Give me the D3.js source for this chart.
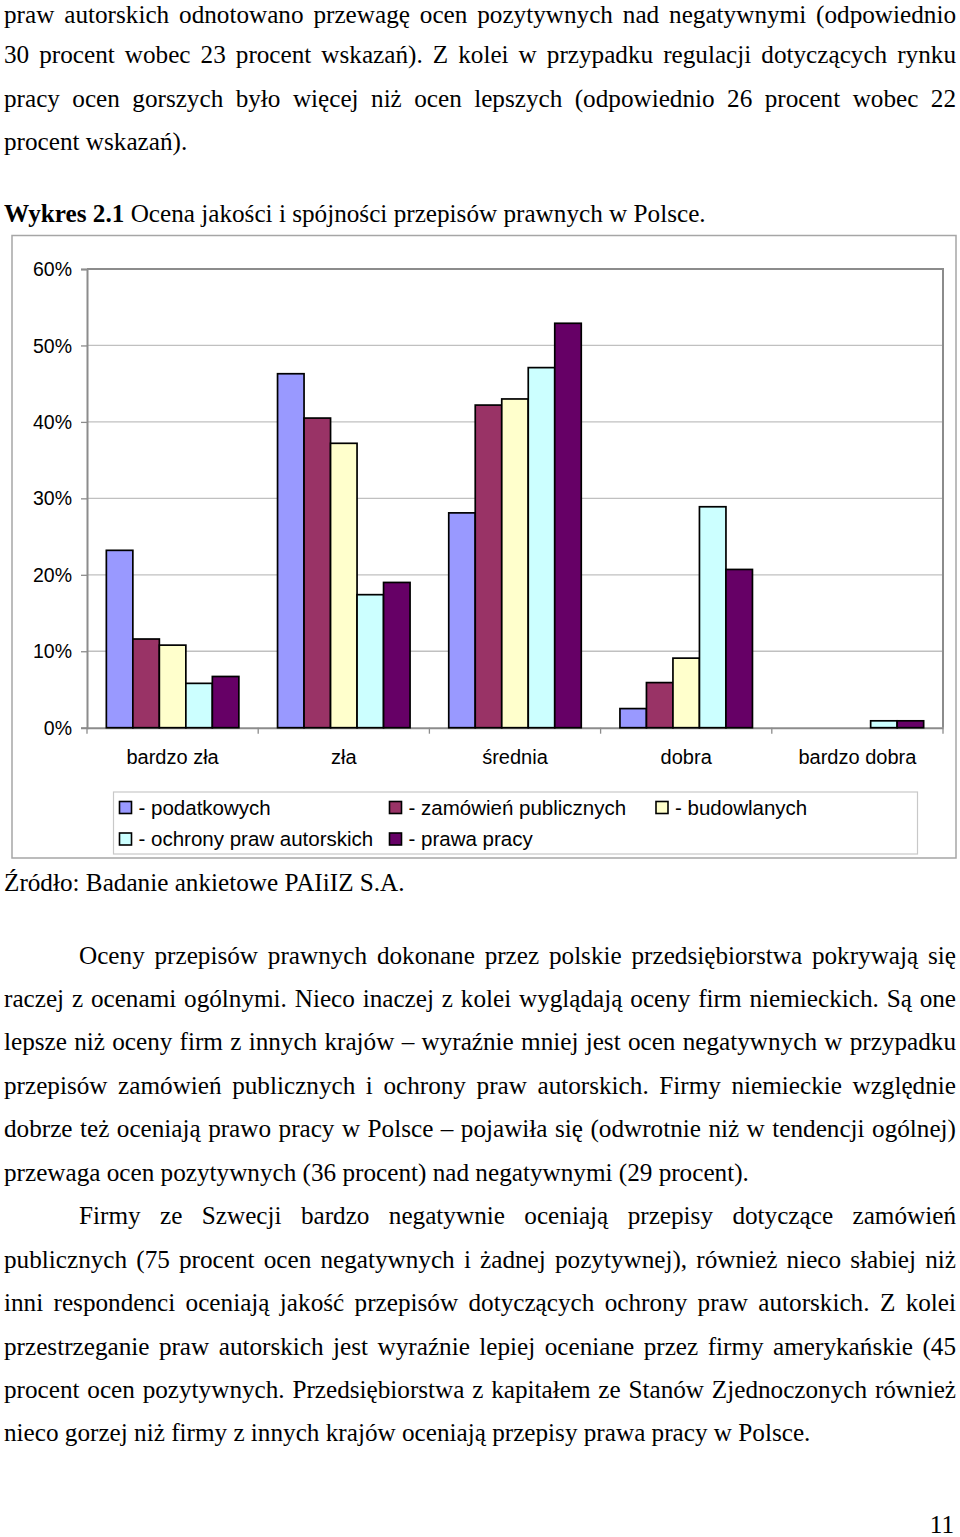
<!DOCTYPE html>
<html>
<head>
<meta charset="utf-8">
<script src="https://cdn.jsdelivr.net/npm/d3@7/dist/d3.min.js"></script>
<style>
  html, body { margin: 0; padding: 0; background: #fff; }
  svg { display: block; }
</style>
</head>
<body>
<svg id="page" width="960" height="1537"></svg>
<script>
// ---------- DATA ----------
const categories = ["bardzo zła", "zła", "średnia", "dobra", "bardzo dobra"];
const seriesNames = ["- podatkowych", "- zamówień publicznych", "- budowlanych", "- ochrony praw autorskich", "- prawa pracy"];
const seriesColors = ["#9999FF", "#993366", "#FFFFCC", "#CCFFFF", "#660066"];
const podatkowych = [23.2, 46.3, 28.1, 2.5, 0];
const zamowienPublicznych = [11.6, 40.5, 42.2, 5.9, 0];
const budowlanych = [10.8, 37.2, 43.0, 9.1, 0];
const ochronyPrawAutorskich = [5.8, 17.4, 47.1, 28.9, 0.9];
const prawaPracy = [6.7, 19.0, 52.9, 20.7, 0.9];
const yTickValues = [0, 10, 20, 30, 40, 50, 60];
const yTickLabels = ["0%", "10%", "20%", "30%", "40%", "50%", "60%"];

const topLines = [
  "praw autorskich odnotowano przewagę ocen pozytywnych nad negatywnymi (odpowiednio",
  "30 procent wobec 23 procent wskazań). Z kolei w przypadku regulacji dotyczących rynku",
  "pracy ocen gorszych było więcej niż ocen lepszych (odpowiednio 26 procent wobec 22",
  "procent wskazań)."
];
const captionBold = "Wykres 2.1";
const captionText = " Ocena jakości i spójności przepisów prawnych w Polsce.";
const sourceText = "Źródło: Badanie ankietowe PAIiIZ S.A.";
const para1 = [
  "Oceny przepisów prawnych dokonane przez polskie przedsiębiorstwa pokrywają się",
  "raczej z ocenami ogólnymi. Nieco inaczej z kolei wyglądają oceny firm niemieckich. Są one",
  "lepsze niż oceny firm z innych krajów – wyraźnie mniej jest ocen negatywnych w przypadku",
  "przepisów zamówień publicznych i ochrony praw autorskich. Firmy niemieckie względnie",
  "dobrze też oceniają prawo pracy w Polsce – pojawiła się (odwrotnie niż w tendencji ogólnej)",
  "przewaga ocen pozytywnych (36 procent) nad negatywnymi (29 procent)."
];
const para2 = [
  "Firmy ze Szwecji bardzo negatywnie oceniają przepisy dotyczące zamówień",
  "publicznych (75 procent ocen negatywnych i żadnej pozytywnej), również nieco słabiej niż",
  "inni respondenci oceniają jakość przepisów dotyczących ochrony praw autorskich. Z kolei",
  "przestrzeganie praw autorskich jest wyraźnie lepiej oceniane przez firmy amerykańskie (45",
  "procent ocen pozytywnych. Przedsiębiorstwa z kapitałem ze Stanów Zjednoczonych również",
  "nieco gorzej niż firmy z innych krajów oceniają przepisy prawa pracy w Polsce."
];
const pageNumber = "11";

// ---------- PAGE ----------
const svg = d3.select("#page");
const SERIF = "'Liberation Serif', 'Times New Roman', serif";
const SANS = "'Liberation Sans', Arial, sans-serif";
const FS = 25.2;
const LH = 43.45;
const LEFT = 4, RIGHT = 956;

function drawLine(x0, y, str, justify) {
  const g = svg.append("g").attr("font-family", SERIF).attr("font-size", FS).attr("fill", "#000");
  if (!justify) {
    g.append("text").attr("x", x0).attr("y", y).attr("xml:space", "preserve").text(str);
    return;
  }
  const words = str.split(" ");
  const nodes = words.map(w => g.append("text").attr("y", y).text(w));
  const widths = nodes.map(n => n.node().getComputedTextLength());
  const total = d3.sum(widths);
  const gap = (RIGHT - x0 - total) / (words.length - 1);
  let x = x0;
  nodes.forEach((n, i) => { n.attr("x", x); x += widths[i] + gap; });
}

topLines.forEach((l, i) => drawLine(LEFT, i === 0 ? 22.8 : 20 + i * LH, l, i < topLines.length - 1));

const cap = svg.append("text").attr("x", LEFT).attr("y", 221.5)
  .attr("font-family", SERIF).attr("font-size", FS).attr("xml:space", "preserve");
cap.append("tspan").attr("font-weight", "bold").text(captionBold);
cap.append("tspan").text(captionText);

drawLine(LEFT, 891, sourceText, false);
para1.forEach((l, i) => drawLine(i === 0 ? 79 : LEFT, 963.5 + i * LH, l, i < para1.length - 1));
para2.forEach((l, i) => drawLine(i === 0 ? 79 : LEFT, 963.5 + (6 + i) * LH, l, i < para2.length - 1));

svg.append("text").attr("x", 954).attr("y", 1533).attr("text-anchor", "end")
  .attr("font-family", SERIF).attr("font-size", FS).text(pageNumber);

// ---------- CHART ----------
// outer chart frame
svg.append("rect").attr("x", 12).attr("y", 235.5).attr("width", 944).attr("height", 622.5)
  .attr("fill", "none").attr("stroke", "#a6a6a6").attr("stroke-width", 1.5);

const plot = { left: 87, right: 943, top: 269, bottom: 727.7 };
const seriesData = [podatkowych, zamowienPublicznych, budowlanych, ochronyPrawAutorskich, prawaPracy];

const x0 = d3.scaleBand().domain(categories).range([plot.left, plot.right]).padding(0);
const x1 = d3.scaleBand().domain(d3.range(seriesNames.length)).range([0, x0.bandwidth()])
  .paddingInner(0).paddingOuter(0.73);
const y = d3.scaleLinear().domain([0, 60]).range([plot.bottom, plot.top]);

// gridlines
const grid = svg.append("g");
grid.selectAll("line").data(yTickValues.filter(v => v > 0 && v < 60)).join("line")
  .attr("x1", plot.left).attr("x2", plot.right)
  .attr("y1", d => y(d)).attr("y2", d => y(d))
  .attr("stroke", "#c0c0c0").attr("stroke-width", 1.3);

// plot border (top & right)
svg.append("path")
  .attr("d", `M${plot.left},${plot.top}H${plot.right}V${plot.bottom}`)
  .attr("fill", "none").attr("stroke", "#8c8c8c").attr("stroke-width", 2);

// y axis
const yAxis = d3.axisLeft(y).tickValues(yTickValues)
  .tickFormat((d, i) => yTickLabels[i]).tickSize(6).tickPadding(9);
const gy = svg.append("g").attr("transform", `translate(${plot.left},0)`).call(yAxis);
gy.select(".domain").attr("stroke", "#8c8c8c").attr("stroke-width", 2);
gy.selectAll(".tick line").attr("stroke", "#8c8c8c").attr("stroke-width", 1.3);
gy.selectAll(".tick text").attr("font-family", SANS).attr("font-size", 19.5).attr("fill", "#000")
  .attr("dy", "0.34em");

// x axis
const xAxis = d3.axisBottom(x0).tickSize(0).tickPadding(0);
const gx = svg.append("g").attr("transform", `translate(0,${plot.bottom})`).call(xAxis);
gx.select(".domain").attr("stroke", "#8c8c8c").attr("stroke-width", 2);
gx.selectAll(".tick text").attr("font-family", SANS).attr("font-size", 20).attr("fill", "#000")
  .attr("y", 36.5).attr("dy", 0);
// boundary tick marks between categories
svg.append("g").selectAll("line").data(categories.concat(["__end"])).join("line")
  .attr("x1", (d, i) => i < categories.length ? x0(d) : plot.right)
  .attr("x2", (d, i) => i < categories.length ? x0(d) : plot.right)
  .attr("y1", plot.bottom).attr("y2", plot.bottom + 6)
  .attr("stroke", "#8c8c8c").attr("stroke-width", 1.3);

// bars
const barG = svg.append("g");
categories.forEach((cat, ci) => {
  seriesData.forEach((arr, si) => {
    const v = arr[ci];
    if (v <= 0) return;
    barG.append("rect")
      .attr("x", x0(cat) + x1(si))
      .attr("y", y(v))
      .attr("width", x1.bandwidth())
      .attr("height", y(0) - y(v))
      .attr("fill", seriesColors[si])
      .attr("stroke", "#000").attr("stroke-width", 1.7);
  });
});

// legend
const legend = svg.append("g");
legend.append("rect").attr("x", 113.5).attr("y", 792).attr("width", 804).attr("height", 62)
  .attr("fill", "#fff").attr("stroke", "#c8c8c8").attr("stroke-width", 1.2);
const legCols = [119.5, 389.5, 656];
const legRows = [801.5, 833];
seriesNames.forEach((name, i) => {
  const col = i % 3, row = Math.floor(i / 3);
  const lx = legCols[col], ly = legRows[row];
  legend.append("rect").attr("x", lx).attr("y", ly).attr("width", 12).attr("height", 12)
    .attr("fill", seriesColors[i]).attr("stroke", "#000").attr("stroke-width", 1.6);
  legend.append("text").attr("x", lx + 19).attr("y", ly + 13)
    .attr("font-family", SANS).attr("font-size", 20.5).attr("fill", "#000").text(name);
});
</script>
</body>
</html>
